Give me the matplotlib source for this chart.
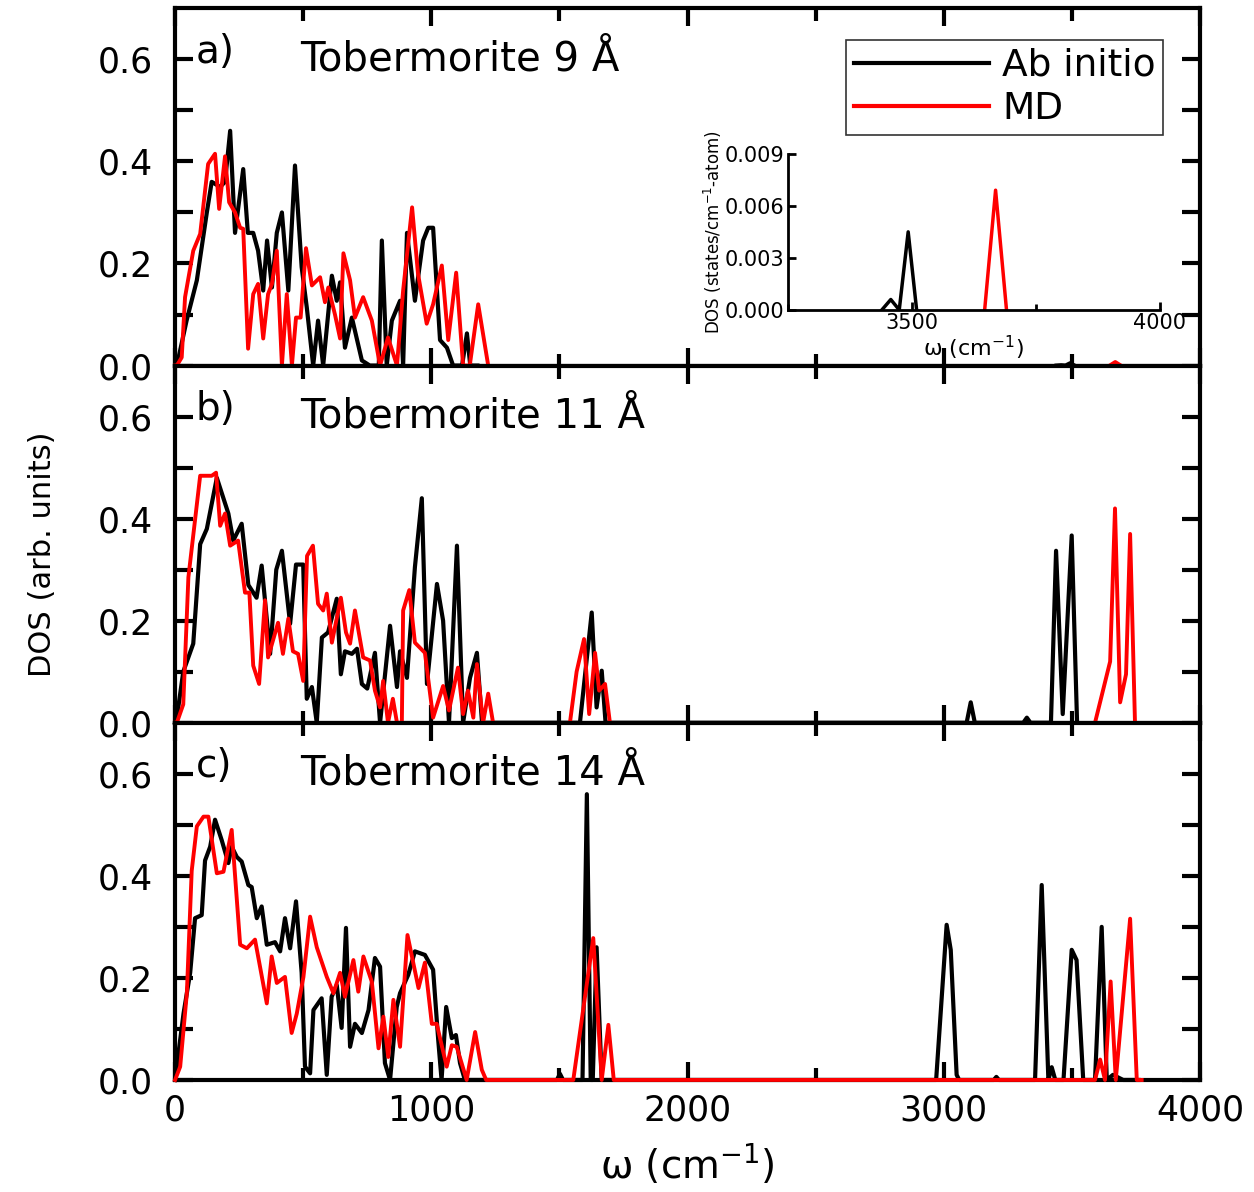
import numpy as np
import matplotlib
matplotlib.use("Agg")
import matplotlib.pyplot as plt
from matplotlib.ticker import FixedLocator, FuncFormatter

plt.rcParams['font.family'] = ['DejaVu Sans']
nan = np.nan

# panel a) Tobermorite 9 A
a_ab_w = [0, 7, 45, 85, 124, 143, 176, 195, 215, 234, 266, 284, 305, 324, 344, 359, 378, 397, 417, 442,
          468, 494, 514, 539, 558, 578, 612, 631, 644, 663, 690, 729, 760, 795, 807, 826, 846, 878, 890, 905,
          936, 968, 988, 1007, 1034, 1061, 1085, 1120, 1139, 1152, 1180]
a_ab_dos = [0, 0, 0.088, 0.167, 0.30, 0.36, 0.35, 0.36, 0.46, 0.26, 0.385, 0.26, 0.26, 0.225, 0.147, 0.245,
            0.153, 0.26, 0.30, 0.147, 0.392, 0.193, 0.114, 0.0, 0.088, 0.0, 0.176, 0.127, 0.163, 0.035, 0.094,
            0.01, 0, 0, 0.245, 0, 0.088, 0.127, 0, 0.26, 0.127, 0.245, 0.27, 0.27, 0.05, 0.035, 0, 0, 0.063, 0, 0]
a_md_w = [0, 7, 26, 39, 71, 98, 129, 156, 172, 195, 211, 234, 254, 266, 285, 305, 324, 344, 363, 378,
          397, 417, 436, 456, 472, 490, 511, 534, 566, 585, 598, 624, 644, 657, 683, 702, 734, 768, 800, 831,
          866, 890, 925, 948, 982, 1007, 1041, 1066, 1097, 1124, 1150, 1183, 1222]
a_md_dos = [0, 0, 0.016, 0.134, 0.225, 0.258, 0.395, 0.415, 0.307, 0.41, 0.32, 0.30, 0.27, 0.268, 0.033,
            0.14, 0.16, 0.053, 0.14, 0.16, 0.225, 0, 0.14, 0, 0.094, 0.094, 0.23, 0.157, 0.173, 0.124, 0.153,
            0.10, 0.053, 0.22, 0.167, 0.094, 0.134, 0.088, 0, 0.055, 0, 0.147, 0.31, 0.18, 0.082, 0.12, 0.196,
            0.05, 0.182, 0, 0, 0.12, 0]

# inset (high frequency part of panel a)
ins_ab_w = [3440, 3458, 3475, 3493, 3510]
ins_ab_dos = [0, 0.0006, 0, 0.0045, 0]
ins_md_w = [3647, 3669, 3691]
ins_md_dos = [0, 0.0069, 0]

# panel b) Tobermorite 11 A
b_ab_w = [0, 7, 32, 71, 98, 124, 163, 208, 227, 260, 286, 318, 338, 371, 395, 417, 449, 472, 500, 514,
          534, 553, 573, 597, 631, 647, 663, 690, 710, 729, 750, 780, 800, 839, 866, 878, 905, 936, 963, 983,
          1022, 1046, 1069, 1100, 1124, 1151, 1178, 1198,
          1560, 1580, 1626, 1645, 1665, 1680,
          3089, 3105, 3121, 3310, 3324, 3338, 3418, 3438, 3464, 3499, 3520]
b_ab_dos = [0, 0.01, 0.1, 0.155, 0.35, 0.38, 0.48, 0.41, 0.357, 0.39, 0.27, 0.245, 0.308, 0.135, 0.3, 0.337,
            0.194, 0.31, 0.31, 0.047, 0.07, 0, 0.167, 0.177, 0.243, 0.095, 0.14, 0.135, 0.145, 0.076, 0.067,
            0.137, 0, 0.19, 0.07, 0.14, 0.088, 0.305, 0.44, 0.076, 0.272, 0.2, 0, 0.347, 0, 0.088, 0.137, 0,
            0, 0, 0.216, 0.03, 0.102, 0,
            0, 0.04, 0, 0, 0.01, 0, 0, 0.337, 0.017, 0.367, 0]
b_md_w = [0, 7, 32, 52, 98, 143, 160, 176, 195, 215, 246, 273, 290, 305, 328, 351, 363, 402, 421, 442,
          460, 480, 500, 515, 538, 558, 578, 592, 612, 647, 667, 683, 702, 734, 761, 780, 800, 812, 831, 850,
          866, 885, 890, 914, 936, 975, 1007, 1046, 1069, 1104, 1124, 1143, 1164, 1178, 1202, 1222, 1241,
          nan, 1541, 1567, 1596, 1616, 1639, 1655, 1678, 1697,
          nan, 3590, 3649, 3668, 3688, 3711, 3727, 3746]
b_md_dos = [0, 0, 0.036, 0.285, 0.484, 0.484, 0.49, 0.386, 0.41, 0.347, 0.357, 0.255, 0.255, 0.112, 0.076,
            0.24, 0.128, 0.196, 0.135, 0.204, 0.14, 0.135, 0.082, 0.327, 0.347, 0.233, 0.22, 0.253, 0.157,
            0.245, 0.177, 0.155, 0.22, 0.128, 0.122, 0.063, 0.03, 0.082, 0, 0.047, 0, 0, 0.22, 0.26, 0.157,
            0.137, 0.01, 0.072, 0.024, 0.108, 0.017, 0.063, 0.01, 0.115, 0, 0.057, 0,
            nan, 0, 0.1, 0.164, 0.017, 0.137, 0.063, 0.076, 0,
            nan, 0, 0.12, 0.42, 0.04, 0.095, 0.37, 0]

# panel c) Tobermorite 14 A
c_ab_w = [0, 33, 59, 78, 104, 117, 137, 156, 182, 208, 221, 241, 260, 286, 299, 319, 338, 358, 390, 410,
          429, 449, 472, 494, 507, 527, 540, 572, 592, 611, 631, 650, 667, 683, 702, 729, 755, 780, 800, 819,
          839, 865, 878, 910, 936, 975, 1007, 1027, 1040, 1058, 1080, 1096, 1112, 1131,
          1490, 1502, 1514, 1590, 1607, 1622, 1630, 1645, 1665,
          2970, 3011, 3027, 3050, 3060, 3195, 3205, 3215, 3356, 3382, 3408, 3421, 3435, 3467, 3499, 3518,
          3544, 3590, 3616, 3636, 3660, 3700, 3760]
c_ab_dos = [0, 0.13, 0.21, 0.317, 0.323, 0.43, 0.457, 0.51, 0.47, 0.425, 0.457, 0.437, 0.428, 0.382, 0.378,
            0.317, 0.34, 0.265, 0.27, 0.252, 0.317, 0.258, 0.35, 0.21, 0.026, 0.013, 0.137, 0.16, 0.01, 0.163,
            0.186, 0.102, 0.298, 0.065, 0.11, 0.092, 0.137, 0.239, 0.222, 0.033, 0, 0.143, 0.17, 0.206, 0.252,
            0.245, 0.216, 0.078, 0, 0.143, 0.082, 0.088, 0.033, 0,
            0, 0.012, 0, 0, 0.56, 0, 0, 0.26, 0,
            0, 0.304, 0.255, 0.01, 0, 0, 0.006, 0, 0, 0.382, 0, 0.025, 0, 0, 0.255, 0.235,
            0, 0, 0.3, 0, 0.01, 0, 0]
c_md_w = [0, 20, 46, 65, 85, 111, 130, 163, 189, 221, 254, 280, 312, 358, 377, 397, 429, 455, 475, 501,
          527, 553, 592, 618, 644, 663, 696, 715, 735, 768, 794, 813, 832, 852, 878, 907, 950, 975, 1002, 1021,
          1060, 1080, 1099, 1138, 1171, 1197, 1214, 1554, 1632, 1665, 1691, 1712, 3590, 3610, 3629, 3651, 3671,
          3727, 3753, 3772]
c_md_dos = [0, 0.026, 0.17, 0.41, 0.497, 0.516, 0.516, 0.405, 0.408, 0.49, 0.265, 0.258, 0.275, 0.15, 0.242,
            0.19, 0.202, 0.092, 0.13, 0.202, 0.32, 0.26, 0.202, 0.17, 0.21, 0.163, 0.235, 0.173, 0.242, 0.192,
            0.062, 0.124, 0.045, 0.157, 0.065, 0.284, 0.18, 0.23, 0.11, 0.11, 0.026, 0.068, 0.065, 0, 0.094,
            0.02, 0, 0, 0.278, 0, 0.108, 0, 0, 0.04, 0, 0.193, 0, 0.316, 0, 0]

panels = [
    ("a)", "Tobermorite 9 Å", a_ab_w, a_ab_dos, a_md_w, a_md_dos),
    ("b)", "Tobermorite 11 Å", b_ab_w, b_ab_dos, b_md_w, b_md_dos),
    ("c)", "Tobermorite 14 Å", c_ab_w, c_ab_dos, c_md_w, c_md_dos),
]

fig = plt.figure(figsize=(12.54, 11.92), dpi=100)
left, right, top, bottom = 0.1396, 0.957, 0.993, 0.094
h = (top - bottom) / 3

axes = []
for i, (letter, name, abw, abd, mdw, mdd) in enumerate(panels):
    ax = fig.add_axes([left, top - (i + 1) * h, right - left, h])
    axes.append(ax)
    ax.plot(abw, abd, color='black', lw=3.0, label='Ab initio', zorder=3, clip_on=False)
    ax.plot(mdw, mdd, color='red', lw=2.8, label='MD', zorder=3, clip_on=False)
    if i == 0:
        ax.plot(ins_ab_w, ins_ab_dos, color='black', lw=3.0, zorder=3)
        ax.plot(ins_md_w, ins_md_dos, color='red', lw=2.8, zorder=3)
    ax.set_xlim(0, 4000)
    ax.set_ylim(0, 0.7)
    ax.yaxis.set_major_locator(FixedLocator([0.1 * k for k in range(7)]))
    ax.yaxis.set_major_formatter(FuncFormatter(
        lambda v, p: "%.1f" % v if round(v * 10) % 2 == 0 else ""))
    ax.xaxis.set_major_locator(FixedLocator([0, 1000, 2000, 3000, 4000]))
    ax.xaxis.set_minor_locator(FixedLocator([500, 1500, 2500, 3500]))
    ax.tick_params(which='major', direction='in', length=13, width=3, top=True, right=True,
                   labelsize=25)
    ax.tick_params(axis='y', pad=16)
    ax.tick_params(axis='x', pad=10)
    ax.tick_params(which='minor', direction='in', length=9, width=3, top=True, right=True)
    for s in ax.spines.values():
        s.set_linewidth(3)
    if i < 2:
        ax.tick_params(labelbottom=False)
    ax.text(80, 0.615, letter, fontsize=28, va='center', ha='left')
    ax.text(490, 0.6, name, fontsize=29, va='center', ha='left')

leg = axes[0].legend(loc='upper right', bbox_to_anchor=(0.964, 0.91), borderaxespad=0,
                     fontsize=27, frameon=True, fancybox=False, edgecolor='black',
                     handlelength=3.6, handletextpad=0.35, labelspacing=0.2,
                     borderpad=0.2)
leg.get_frame().set_linewidth(1.2)
for lh in leg.get_lines():
    lh.set_linewidth(3)

axes[2].set_xlabel('ω (cm$^{-1}$)', fontsize=28, labelpad=10)
fig.text(0.034, 0.535, 'DOS (arb. units)', rotation=90, fontsize=22, va='center', ha='center')

# inset
ins = fig.add_axes([0.628, 0.740, 0.297, 0.131])
ins.plot(ins_ab_w, ins_ab_dos, color='black', lw=2.5)
ins.plot(ins_md_w, ins_md_dos, color='red', lw=2.5)
ins.set_xlim(3250, 4000)
ins.set_ylim(0, 0.009)
ins.set_yticks([0, 0.003, 0.006, 0.009])
ins.set_yticklabels(['0.000', '0.003', '0.006', '0.009'])
ins.set_xticks([3500, 4000])
ins.xaxis.set_minor_locator(FixedLocator([3250, 3750]))
ins.spines['top'].set_visible(False)
ins.spines['right'].set_visible(False)
for s in ('left', 'bottom'):
    ins.spines[s].set_linewidth(2)
ins.tick_params(which='both', direction='in', width=2, labelsize=15, pad=2)
ins.tick_params(which='major', length=6)
ins.tick_params(which='minor', length=4)
ins.patch.set_alpha(0)
ins.set_xlabel('ω (cm$^{-1}$)', fontsize=16, labelpad=1)
ins.set_ylabel('DOS (states/cm$^{-1}$-atom)', fontsize=12, labelpad=1)

fig.savefig('out.png', dpi=100)
